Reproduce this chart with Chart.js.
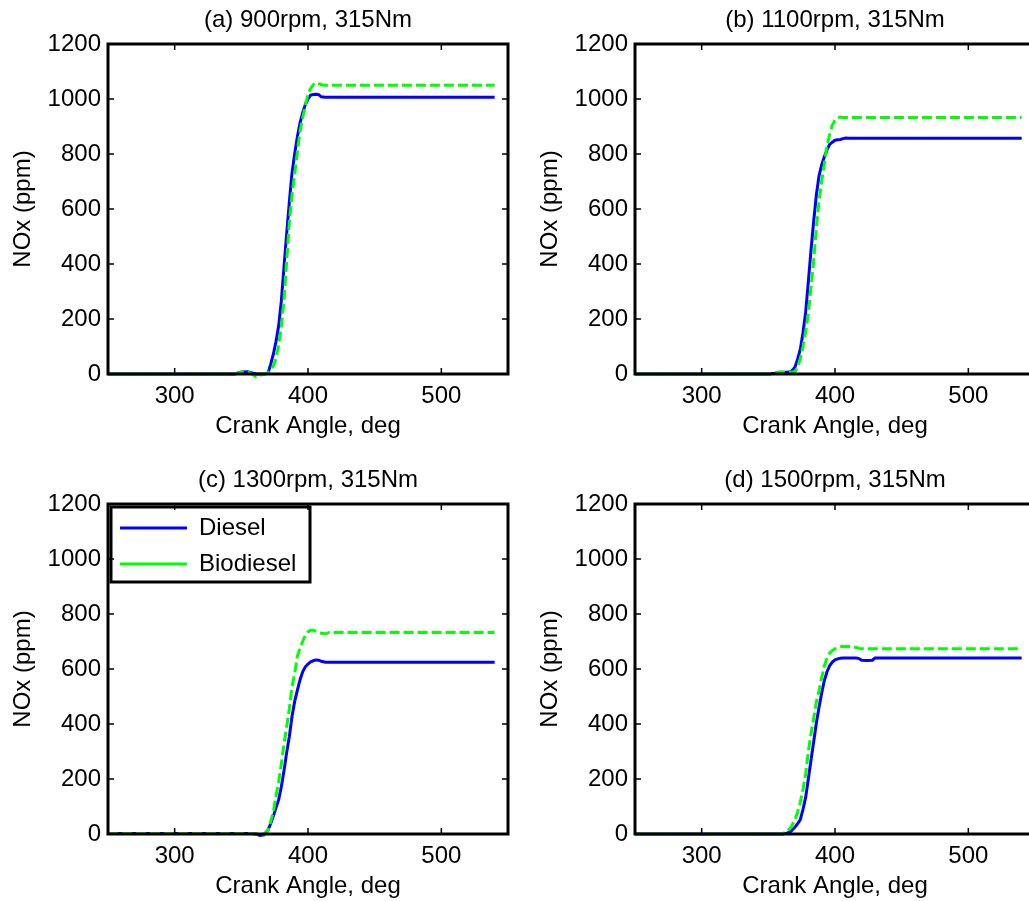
<!DOCTYPE html>
<html>
<head>
<meta charset="utf-8">
<script src="https://cdn.jsdelivr.net/npm/chart.js@4.4.1/dist/chart.umd.min.js"></script>
<style>
html, body { margin: 0; padding: 0; background: #fff; overflow: hidden; }
body { width: 1029px; height: 901px; position: relative; }
.panel { position: absolute; width: 520px; height: 460px; }
</style>
</head>
<body>
<div class="panel" style="left:0;top:0"><canvas id="chartA" width="520" height="460"></canvas></div>
<div class="panel" style="left:527px;top:0"><canvas id="chartB" width="520" height="460"></canvas></div>
<div class="panel" style="left:0;top:460px"><canvas id="chartC" width="520" height="460"></canvas></div>
<div class="panel" style="left:527px;top:460px"><canvas id="chartD" width="520" height="460"></canvas></div>
<script>
// crank angle grid (deg) shared by every series
const crankAngle = [250, 345, 350, 355, 358, 361, 364, 367, 370, 372, 374, 376, 378, 380, 382, 384, 386, 388, 390, 392,
    394, 396, 398, 400, 402, 404, 406, 408, 410, 413, 416, 418, 420, 424, 428, 430, 435, 540];

// NOx (ppm)
const dieselA = [0, 0, 7, 8, 4, 0, 0, 0, 3, 35, 72, 118, 175, 265, 390, 510, 625, 730, 800, 862,
    912, 950, 980, 1000, 1014, 1016, 1017, 1016, 1008, 1006, 1006, 1006, 1006, 1006, 1006, 1006, 1006, 1006];
const biodieselA = [0, 0, 6, 7, 0, -10, -5, 0, 5, 15, 30, 55, 105, 170, 269, 410, 550, 650, 728, 805,
    880, 932, 975, 1018, 1038, 1052, 1060, 1056, 1052, 1050, 1050, 1050, 1050, 1050, 1050, 1050, 1050, 1050];

const dieselB = [0, 0, 0, 3, 6, 6, 6, 8, 25, 55, 90, 150, 225, 335, 450, 555, 650, 720, 760, 790,
    815, 835, 843, 850, 852, 853, 856, 858, 857, 857, 857, 857, 857, 857, 857, 857, 857, 857];
const biodieselB = [0, 0, 0, 3, 6, 6, 6, 6, 8, 25, 55, 99, 155, 218, 315, 410, 530, 628, 700, 765,
    830, 870, 905, 922, 932, 934, 933, 933, 933, 933, 933, 933, 933, 933, 933, 933, 933, 933];

const dieselC = [2, 2, 2, 2, 2, 0, -5, -3, 15, 37, 65, 95, 125, 172, 230, 296, 354, 427, 482, 522,
    560, 590, 608, 618, 626, 630, 633, 632, 628, 625, 625, 625, 625, 625, 625, 625, 625, 625];
const biodieselC = [2, 2, 2, 2, 2, 0, 0, 0, 12, 45, 80, 138, 190, 255, 327, 390, 455, 535, 582, 645,
    676, 700, 722, 735, 741, 741, 737, 733, 730, 728, 733, 734, 733, 733, 733, 733, 733, 733];

const dieselD = [0, 0, 0, 0, 0, 0, 3, 10, 25, 38, 52, 90, 133, 200, 268, 335, 403, 460, 512, 558,
    590, 612, 625, 633, 637, 639, 640, 640, 640, 640, 640, 638, 632, 631, 632, 640, 640, 640];
const biodieselD = [0, 0, 0, 0, 0, 2, 8, 25, 52, 80, 115, 162, 218, 300, 365, 420, 480, 520, 568, 610,
    640, 658, 667, 673, 678, 681, 682, 682, 682, 681, 678, 675, 674, 674, 674, 674, 674, 674];

const panelTitles = ['(a) 900rpm, 315Nm', '(b) 1100rpm, 315Nm', '(c) 1300rpm, 315Nm', '(d) 1500rpm, 315Nm'];
const seriesNames = ['Diesel', 'Biodiesel'];
const xTicks = [300, 400, 500];
const yTicks = [0, 200, 400, 600, 800, 1000, 1200];

Chart.defaults.font.family = "'Liberation Sans', Arial, Helvetica, sans-serif";
Chart.defaults.color = '#000';

// MATLAB-style box with inward tick marks, plus the legend frame
const boxPlugin = {
    id: 'boxPlugin',
    afterLayout(chart) {
        // legend placed in the chart area starts at canvas top; move it down into the axes
        const lg = chart.legend;
        if (lg && chart.options.plugins.legend.display) {
            const h = lg.bottom - lg.top;
            lg.top = chart.chartArea.top;
            lg.bottom = lg.top + h;
        }
    },
    afterDraw(chart) {
        const { ctx, chartArea: a, scales } = chart;
        ctx.save();
        ctx.strokeStyle = '#000';
        ctx.lineWidth = 1.5;
        ctx.beginPath();
        scales.x.ticks.forEach(t => {
            const px = scales.x.getPixelForValue(t.value);
            ctx.moveTo(px, a.bottom); ctx.lineTo(px, a.bottom - 6);
            ctx.moveTo(px, a.top); ctx.lineTo(px, a.top + 6);
        });
        scales.y.ticks.forEach(t => {
            const py = scales.y.getPixelForValue(t.value);
            ctx.moveTo(a.left, py); ctx.lineTo(a.left + 6, py);
            ctx.moveTo(a.right, py); ctx.lineTo(a.right - 6, py);
        });
        ctx.stroke();
        ctx.lineWidth = 3;
        ctx.strokeRect(a.left, a.top, a.right - a.left, a.bottom - a.top);
        if (chart.options.plugins.legend.display) {
            ctx.strokeRect(a.left + 3, a.top + 3, 199, 75);
        }
        ctx.restore();
    }
};

function toPoints(values) {
    return values.map((v, i) => ({ x: crankAngle[i], y: v }));
}

function makePanel(canvasId, title, diesel, biodiesel, showLegend) {
    const ctx = document.getElementById(canvasId).getContext('2d');
    new Chart(ctx, {
        type: 'line',
        data: {
            datasets: [{
                label: seriesNames[0],
                data: toPoints(diesel),
                borderColor: '#0000ff',
                borderWidth: 3,
                pointRadius: 0,
                fill: false,
                tension: 0,
                clip: 6,
                order: 1
            },
            {
                label: seriesNames[1],
                data: toPoints(biodiesel),
                borderColor: '#00ff00',
                borderWidth: 3,
                borderDash: [10, 4],
                pointRadius: 0,
                fill: false,
                tension: 0,
                clip: 6,
                order: 0
            }]
        },
        options: {
            responsive: false,
            animation: false,
            layout: { padding: { left: 0, right: 12, top: 0, bottom: 0 } },
            plugins: {
                title: { display: false },
                legend: {
                    display: showLegend,
                    position: 'chartArea',
                    align: 'start',
                    labels: {
                        usePointStyle: true,
                        pointStyle: 'line',
                        pointStyleWidth: 67,
                        padding: 12,
                        font: { size: 24 },
                        sort: (a, b) => a.datasetIndex - b.datasetIndex
                    }
                },
                tooltip: { enabled: false }
            },
            scales: {
                x: {
                    type: 'linear',
                    min: 250,
                    max: 550,
                    afterBuildTicks: s => { s.ticks = xTicks.map(v => ({ value: v })); },
                    afterFit: s => { s.height = 86; },
                    grid: { display: false, drawTicks: false },
                    border: { display: false },
                    ticks: { padding: 8, maxRotation: 0, font: { size: 24 }, callback: v => String(v) },
                    title: { display: true, text: 'Crank Angle, deg', font: { size: 24 }, padding: { top: 0, bottom: 19 } }
                },
                // top axis only carries the panel title, centred over the axes
                x2: {
                    type: 'linear',
                    position: 'top',
                    display: true,
                    afterFit: s => { s.height = 44; },
                    grid: { display: false, drawTicks: false },
                    border: { display: false },
                    ticks: { display: false },
                    title: { display: true, text: title, font: { size: 24 }, padding: { top: 6, bottom: 0 } }
                },
                y: {
                    min: 0,
                    max: 1200,
                    afterBuildTicks: s => { s.ticks = yTicks.map(v => ({ value: v })); },
                    afterFit: s => { s.width = 108; },
                    grid: { display: false, drawTicks: false },
                    border: { display: false },
                    ticks: { padding: 7, font: { size: 24 }, callback: v => String(v) },
                    title: { display: true, text: 'NOx (ppm)', font: { size: 24 }, padding: { top: 9, bottom: 0 } }
                }
            }
        },
        plugins: [boxPlugin]
    });
}

makePanel('chartA', panelTitles[0], dieselA, biodieselA, false);
makePanel('chartB', panelTitles[1], dieselB, biodieselB, false);
makePanel('chartC', panelTitles[2], dieselC, biodieselC, true);
makePanel('chartD', panelTitles[3], dieselD, biodieselD, false);
</script>
</body>
</html>
